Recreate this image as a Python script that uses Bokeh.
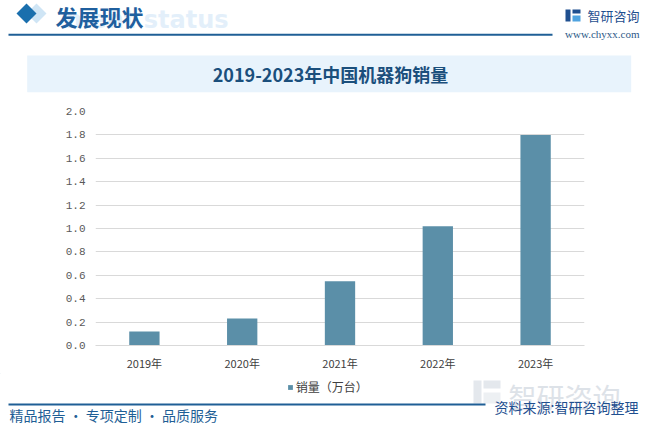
from bokeh.plotting import figure
from bokeh.layouts import column
from bokeh.models import (FactorRange, Range1d, Label, Legend, LegendItem,
                          FixedTicker, NumeralTickFormatter)
from bokeh.embed import file_html
from bokeh.resources import INLINE

# ---- data ----
years = ["2019年", "2020年", "2021年", "2022年", "2023年"]
sales = [0.12, 0.23, 0.55, 1.02, 1.80]
y_ticks = [0.0, 0.2, 0.4, 0.6, 0.8, 1.0, 1.2, 1.4, 1.6, 1.8, 2.0]
chart_title = "2019-2023年中国机器狗销量"
series_name = "销量（万台）"
header = "发展现状"
header_en = "ment status"
brand = "智研咨询"
site = "www.chyxx.com"
slogan = "精品报告 · 专项定制 · 品质服务"
source = "资料来源:智研咨询整理"

CJK = "Noto Sans CJK SC"
BAR = "#5b8fa8"
NAVY = "#1f5f96"
W, H = 640, 425
TOP_H = 98            # header strip height
L, R, T, B = 95, 584, 111, 345   # plot frame (page pixels)
MID_END = 373
Y_MAX = 2.0


def canvas(y0, y1):
    f = figure(width=W, height=y1 - y0, x_range=Range1d(0, W), y_range=Range1d(y1, y0),
               x_axis_type=None, y_axis_type=None, output_backend="svg",
               toolbar_location=None, min_border=0, frame_align=False)
    f.outline_line_color = None
    f.xgrid.visible = False
    f.ygrid.visible = False
    return f


def label(f, text, x, y, size, color, font=CJK, align="left", style="normal"):
    f.add_layout(Label(x=x, y=y, text=text, text_font=font, text_font_size=f"{size}px",
                       text_color=color, text_align=align, text_baseline="middle",
                       text_font_style=style))


def rect(f, x0, y0, x1, y1, color):
    f.quad(left=x0, right=x1, top=y0, bottom=y1, fill_color=color, line_color=None)


def diamond(f, cx, cy, r, color):
    f.patch(x=[cx - r, cx, cx + r, cx], y=[cy, cy - r, cy, cy + r],
            fill_color=color, line_color=None)


# ================= header strip =================
top = canvas(0, TOP_H)
diamond(top, 36, 13, 10, "#cfe5f5")
diamond(top, 26, 13, 10, "#1a6fad")
label(top, header_en, 65, 19, 24, "#e3effa", font="DejaVu Sans", style="bold")
label(top, header, 55, 15, 22, "#1f5f9e", style="bold")
rect(top, 8, 33.3, 552, 35.3, NAVY)
# logo
rect(top, 565, 9, 570, 21, "#1f4f8f")
rect(top, 572, 9, 580, 13, "#1f4f8f")
rect(top, 572, 15, 580, 21, "#4fa3e0")
label(top, brand, 587, 15, 13, "#1f4f8f")
label(top, site, 639, 33, 11, "#2e5a88", font="Liberation Serif", align="right")
# chart title
rect(top, 26.7, 55, 630.7, 91.7, "#e8f3fc")
label(top, chart_title, 330, 73.5, 18, "#1b4f7c", align="center", style="bold")

# ================= chart =================
mid = figure(width=W, height=MID_END - TOP_H,
             x_range=FactorRange(*years, range_padding=0),
             y_range=Range1d(0, Y_MAX),
             output_backend="svg", toolbar_location=None, frame_align=False,
             min_border_left=L, min_border_right=W - R,
             min_border_top=T - TOP_H, min_border_bottom=MID_END - B)
mid.outline_line_color = None
mid.vbar(x=years, top=sales, width=0.31, fill_color=BAR, line_color=None)

mid.yaxis.ticker = FixedTicker(ticks=y_ticks)
mid.yaxis.formatter = NumeralTickFormatter(format="0.0")
mid.yaxis.axis_line_color = None
mid.yaxis.major_tick_line_color = None
mid.yaxis.minor_tick_line_color = None
mid.yaxis.major_tick_out = 0
mid.yaxis.major_label_standoff = 10
mid.yaxis.major_label_text_font = "Liberation Mono"
mid.yaxis.major_label_text_font_size = "11px"
mid.yaxis.major_label_text_color = "#595959"

mid.xaxis.axis_line_color = "#d9d9d9"
mid.xaxis.major_tick_line_color = None
mid.xaxis.minor_tick_line_color = None
mid.xaxis.major_tick_out = 0
mid.xaxis.major_label_standoff = 9
mid.xaxis.major_label_text_font = CJK
mid.xaxis.major_label_text_font_size = "11px"
mid.xaxis.major_label_text_color = "#404040"

mid.ygrid.grid_line_color = "#d9d9d9"
mid.xgrid.visible = False

# ================= legend + footer =================
bot = canvas(MID_END, H)
# legend key: a bar of the series' style kept entirely outside the visible strip
key = bot.vbar(x=[-300], top=[MID_END - 40], bottom=[MID_END - 60], width=1,
               fill_color=BAR, line_color=None)
legend = Legend(items=[LegendItem(label=series_name, renderers=[key])],
                location=(286.7, H - 395), glyph_width=6, glyph_height=6,
                label_height=14, label_standoff=3, padding=0, margin=0, spacing=0,
                border_line_color=None, background_fill_alpha=0,
                label_text_font=CJK, label_text_font_size="12px",
                label_text_color="#404040")
bot.add_layout(legend)

# faint brand watermark
rect(bot, 473, 380, 481, 403, "#e4e8ed")
rect(bot, 483, 380, 500, 388, "#e4e8ed")
rect(bot, 483, 392, 500, 403, "#edf0f3")
label(bot, brand, 508, 396, 28, "#dde2e8")

rect(bot, 8, 403, 485, 405, NAVY)
label(bot, source, 638, 406, 14, "#1f4f8f", align="right")
label(bot, slogan, 9, 414, 14, NAVY)

layout = column(top, mid, bot, spacing=0)
open("out.html", "w").write(file_html(layout, INLINE))
